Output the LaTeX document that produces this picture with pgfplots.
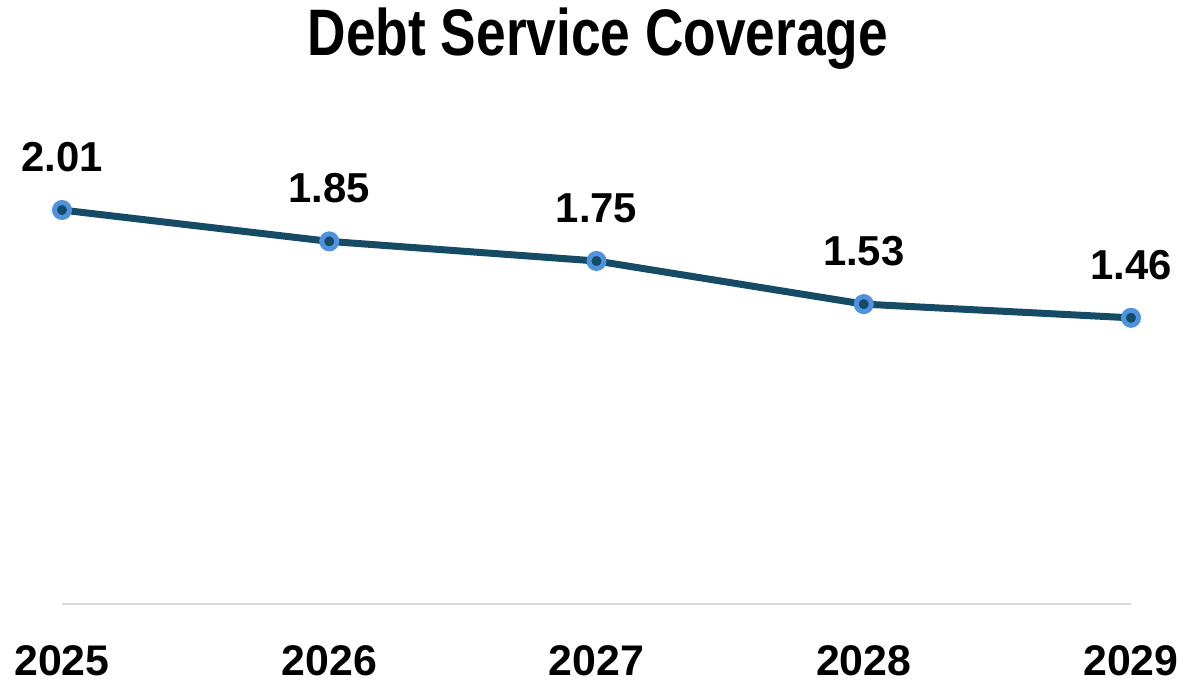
\documentclass[border=0pt]{standalone}
\usepackage{fontspec}
\setmainfont{Liberation Sans}
\usepackage{pgfplots}
\pgfplotsset{compat=1.18}

\definecolor{dscline}{HTML}{164B66}
\definecolor{dscmark}{HTML}{4F93DE}
\definecolor{dscbase}{HTML}{D9D9D9}

\begin{document}
\begin{tikzpicture}
  \path[use as bounding box] (0,0) rectangle (1184bp,684bp);
  \begin{axis}[
      at={(62bp,80bp)}, anchor=south west,
      scale only axis,
      width=1069bp, height=490bp,
      xmin=0, xmax=4, ymin=0, ymax=2.5,
      clip=false,
      hide y axis,
      axis x line*=bottom,
      x axis line style={-, draw=dscbase, line width=1.5bp},
      xtick={0,1,2,3,4},
      xticklabels={2025,2026,2027,2028,2029},
      major tick length=0pt,
      xticklabel style={anchor=center, yshift=-57bp,
        font=\fontsize{43}{50}\selectfont\bfseries},
      /pgf/number format/assume math mode=true,
      nodes near coords={\pgfmathprintnumber[fixed,precision=2,fixed zerofill]{\pgfplotspointmeta}},
      every node near coord/.append style={anchor=center, yshift=53bp,
        font=\fontsize{42}{48}\selectfont\bfseries, text=black},
    ]
    \addplot[color=dscline, line width=7bp, mark=*, mark size=7.5bp,
      mark options={fill=dscline, draw=dscmark, line width=5bp}]
      coordinates {(0,2.01) (1,1.85) (2,1.75) (3,1.53) (4,1.46)};
  \end{axis}
  \node at (598bp,645bp) {\scalebox{0.81}[1]{\fontsize{66}{76}\selectfont\bfseries Debt Service Coverage}};
\end{tikzpicture}
\end{document}
